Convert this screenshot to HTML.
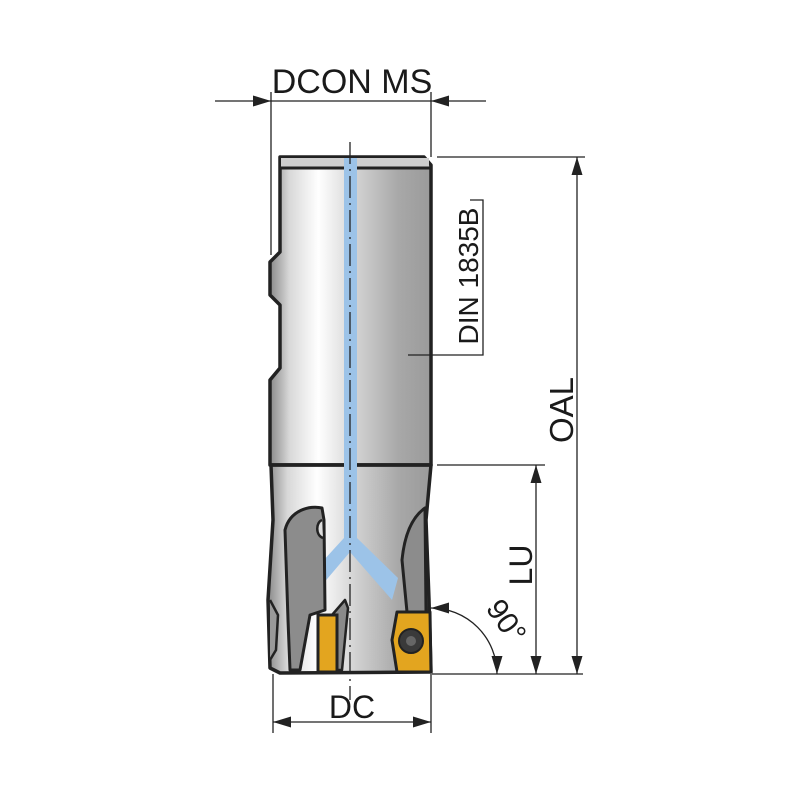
<!DOCTYPE html>
<html><head><style>
html,body{margin:0;padding:0;background:#fff;}
svg{display:block;}
text{font-family:"Liberation Sans",Arial,sans-serif;fill:#1a1a1a;}
</style></head><body>
<svg width="800" height="800" viewBox="0 0 800 800" xmlns="http://www.w3.org/2000/svg">
<defs>
<linearGradient id="g" x1="0" x2="1" y1="0" y2="0">
<stop offset="0" stop-color="#8a8a8a"/>
<stop offset="0.12" stop-color="#d8d8d8"/>
<stop offset="0.3" stop-color="#ffffff"/>
<stop offset="0.55" stop-color="#d0d0d0"/>
<stop offset="0.8" stop-color="#a8a8a8"/>
<stop offset="1" stop-color="#9a9a9a"/>
</linearGradient>
<marker id="a" viewBox="0 0 10 10" refX="10" refY="5" markerWidth="18" markerHeight="11" orient="auto-start-reverse" markerUnits="userSpaceOnUse" preserveAspectRatio="none">
<path d="M0,0 L10,5 L0,10 z" fill="#222"/>
</marker>
</defs>
<!-- shank -->
<path d="M280,157 L424,157 L431,165 L431,465 L270,465 L270,380 L280,368 L280,305 L270,295 L270,262 L280,252 Z" fill="url(#g)" stroke="#222" stroke-width="3.5" stroke-linejoin="round"/>
<rect x="281" y="158" width="148" height="10" fill="#cfcfcf"/>
<line x1="280" y1="168" x2="431" y2="168" stroke="#222" stroke-width="3"/>
<!-- head -->
<path d="M271,465 L431,465 L426,520 L429,600 L431,672 L280,673 L270,668 L268,600 L273,520 Z" fill="url(#g)" stroke="#222" stroke-width="3.5" stroke-linejoin="round"/>
<line x1="270" y1="465" x2="432" y2="465" stroke="#222" stroke-width="3.5"/>
<!-- blue coolant -->
<rect x="344" y="158" width="13" height="385" fill="#9cc3e8"/>
<path d="M344,538 L322,562 L322,585 L350,552 L392,600 L398,578 L357,538 Z" fill="#9cc3e8"/>
<!-- flutes -->
<path d="M285,530 C290,510 310,505 322,508 L324,520 L325,610 L310,615 L300,670 L290,670 L288,620 Z" fill="#8c8c8c" stroke="#222" stroke-width="3" stroke-linejoin="round"/>
<path d="M322,520 C316,522 315,535 323,538" fill="#ddd" stroke="#222" stroke-width="2.5"/>
<path d="M407,612 L402,560 C405,530 415,515 425,508 L426,612 Z" fill="#8c8c8c" stroke="#222" stroke-width="3" stroke-linejoin="round"/>
<path d="M332,615 L345,600 L348,608 L342,670 L333,670 Z" fill="#8a8a8a" stroke="#222" stroke-width="2.5" stroke-linejoin="round"/>
<path d="M270,600 L278,615 L276,650 L270,660" fill="#999" stroke="#222" stroke-width="2.5"/>
<!-- inserts -->
<rect x="318" y="615" width="19" height="57" fill="#e3a51f" stroke="#222" stroke-width="3"/>
<path d="M397,612 L430,612 L431,672 L397,672 L392,640 Z" fill="#e3a51f" stroke="#222" stroke-width="3" stroke-linejoin="round"/>
<circle cx="411" cy="641" r="12" fill="#3a3a3a" stroke="#222" stroke-width="2"/>
<circle cx="411" cy="641" r="5" fill="#666"/>
<!-- centerline -->
<line x1="350" y1="142" x2="350" y2="700" stroke="#222" stroke-width="1.3" stroke-dasharray="22,5,2,5"/>
<!-- dimension lines -->
<g stroke="#222" stroke-width="1.3" fill="none">
<line x1="271" y1="92" x2="271" y2="255"/>
<line x1="431" y1="92" x2="431" y2="157"/>
<line x1="215" y1="101" x2="271" y2="101" marker-end="url(#a)"/>
<line x1="271" y1="101" x2="431" y2="101"/>
<line x1="486" y1="101" x2="431" y2="101" marker-end="url(#a)"/>
<line x1="437" y1="157" x2="585" y2="157"/>
<line x1="437" y1="465" x2="545" y2="465"/>
<line x1="432" y1="674" x2="583" y2="674"/>
<line x1="577" y1="157" x2="577" y2="674" marker-start="url(#a)" marker-end="url(#a)"/>
<line x1="536" y1="465" x2="536" y2="674" marker-start="url(#a)" marker-end="url(#a)"/>
<line x1="273" y1="674" x2="273" y2="733"/>
<line x1="431" y1="674" x2="431" y2="733"/>
<line x1="273" y1="722" x2="431" y2="722" marker-start="url(#a)" marker-end="url(#a)"/>
<path d="M431,608 A66,66 0 0 1 497,674" marker-start="url(#a)" marker-end="url(#a)"/>
<polyline points="470,200 483,200 483,355 408,355"/>
</g>
<text x="352" y="93" font-size="34" text-anchor="middle">DCON MS</text>
<text x="352" y="718" font-size="32" text-anchor="middle">DC</text>
<text transform="translate(478,276) rotate(-90)" font-size="28" text-anchor="middle">DIN 1835B</text>
<text transform="translate(573,410) rotate(-90)" font-size="33" text-anchor="middle">OAL</text>
<text transform="translate(532,565) rotate(-90)" font-size="32" text-anchor="middle">LU</text>
<text transform="translate(498,627) rotate(55)" font-size="30" text-anchor="middle">90°</text>
</svg>
</body></html>
